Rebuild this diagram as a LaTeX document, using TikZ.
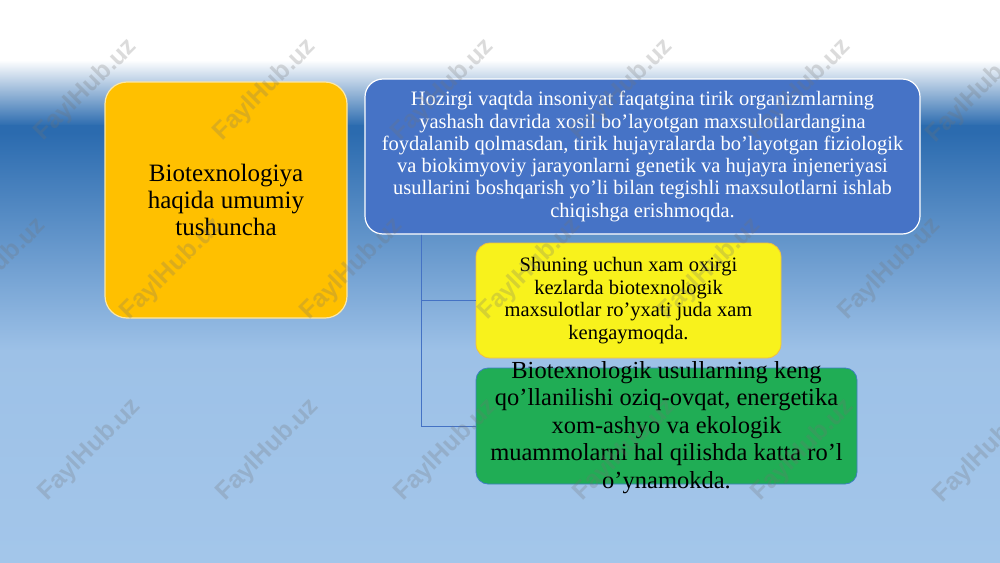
\documentclass[tikz,border=0pt]{standalone}
\usepackage{fontspec}
\setmainfont{Liberation Serif}
\newfontfamily\wmfont{Liberation Sans}
\definecolor{bgd}{HTML}{2B6BAF}
\definecolor{bgm}{HTML}{9DC1E7}
\definecolor{bgl}{HTML}{A3C6EA}
\definecolor{orgc}{HTML}{FFC000}
\definecolor{orgb}{HTML}{FBE7A6}
\definecolor{bluc}{HTML}{4673C6}
\definecolor{yelc}{HTML}{F8F21C}
\definecolor{yelb}{HTML}{F2C040}
\definecolor{grnc}{HTML}{20AD55}
\definecolor{grnb}{HTML}{3F7FC2}
\definecolor{conc}{HTML}{4472C4}
\begin{document}
\begin{tikzpicture}[x=1pt,y=-1pt,
  box/.style={rectangle, inner sep=0pt, align=center, line width=1.2pt},
  conn/.style={draw=conc, line width=0.9pt},
  wm/.style={font=\wmfont\bfseries\fontsize{25}{25}\selectfont, text=black!55, opacity=0.25, rotate=45, inner sep=0pt}]
\useasboundingbox (0,0) rectangle (1000,562);
% background
\fill[white] (0,0) rectangle (1000,61);
\shade[top color=white, bottom color=bgd] (0,60) rectangle (1000,126);
\fill[bgd] (0,125) rectangle (1000,134);
\shade[top color=bgd, bottom color=bgm] (0,133) rectangle (1000,351);
\shade[top color=bgm, bottom color=bgl] (0,350) rectangle (1000,562);
% boxes
\node[box, fill=orgc, draw=orgb, minimum width=242, minimum height=236, rounded corners=22pt,
  font=\fontsize{25}{27}\selectfont] (left) at (226,200) {Biotexnologiya\\haqida umumiy\\tushuncha};
\node[box, fill=bluc, draw=white, minimum width=555, minimum height=155, rounded corners=18pt,
  text=white, font=\fontsize{20.5}{22.3}\selectfont] (blue) at (642.5,156.5)
  {Hozirgi vaqtda insoniyat faqatgina tirik organizmlarning\\
   yashash davrida xosil bo’layotgan maxsulotlardangina\\
   foydalanib qolmasdan, tirik hujayralarda bo’layotgan fiziologik\\
   va biokimyoviy jarayonlarni genetik va hujayra injeneriyasi\\
   usullarini boshqarish yo’li bilan tegishli maxsulotlarni ishlab\\
   chiqishga erishmoqda.};
\node[box, fill=yelc, draw=yelb, line width=0.8pt, minimum width=305, minimum height=115, rounded corners=14pt,
  font=\fontsize{20.5}{22.5}\selectfont] (yellow) at (628.5,300.5)
  {Shuning uchun xam oxirgi\\kezlarda biotexnologik\\maxsulotlar ro’yxati juda xam\\kengaymoqda.};
\node[box, fill=grnc, draw=grnb, line width=0.8pt, minimum width=381, minimum height=116, rounded corners=12pt] (green) at (666.5,426) {};
\node[box, font=\fontsize{24.5}{27.5}\selectfont] (greentext) at (666.5,427.5)
  {Biotexnologik usullarning keng\\qo’llanilishi oziq-ovqat, energetika\\xom-ashyo va ekologik\\muammolarni hal qilishda katta ro’l\\o’ynamokda.};
% connectors
\coordinate (trunk) at (421,0);
\draw[conn] (blue.south -| trunk) |- (yellow.west);
\draw[conn] (blue.south -| trunk) |- (green.west);
% watermarks
\begin{scope}
\clip (0,0) rectangle (1000,562);
\foreach \x/\y [count=\i] in {86/90,265/90,443/90,622/90,800/90,978/92,
  -5/269,172/269,352/269,530/269,710/269,890/269,
  90/450,268/450,446/450,625/450,803/450,985/452}
  \node[wm] (wm\i) at (\x,\y) {FaylHub.uz};
\end{scope}
\end{tikzpicture}
\end{document}
